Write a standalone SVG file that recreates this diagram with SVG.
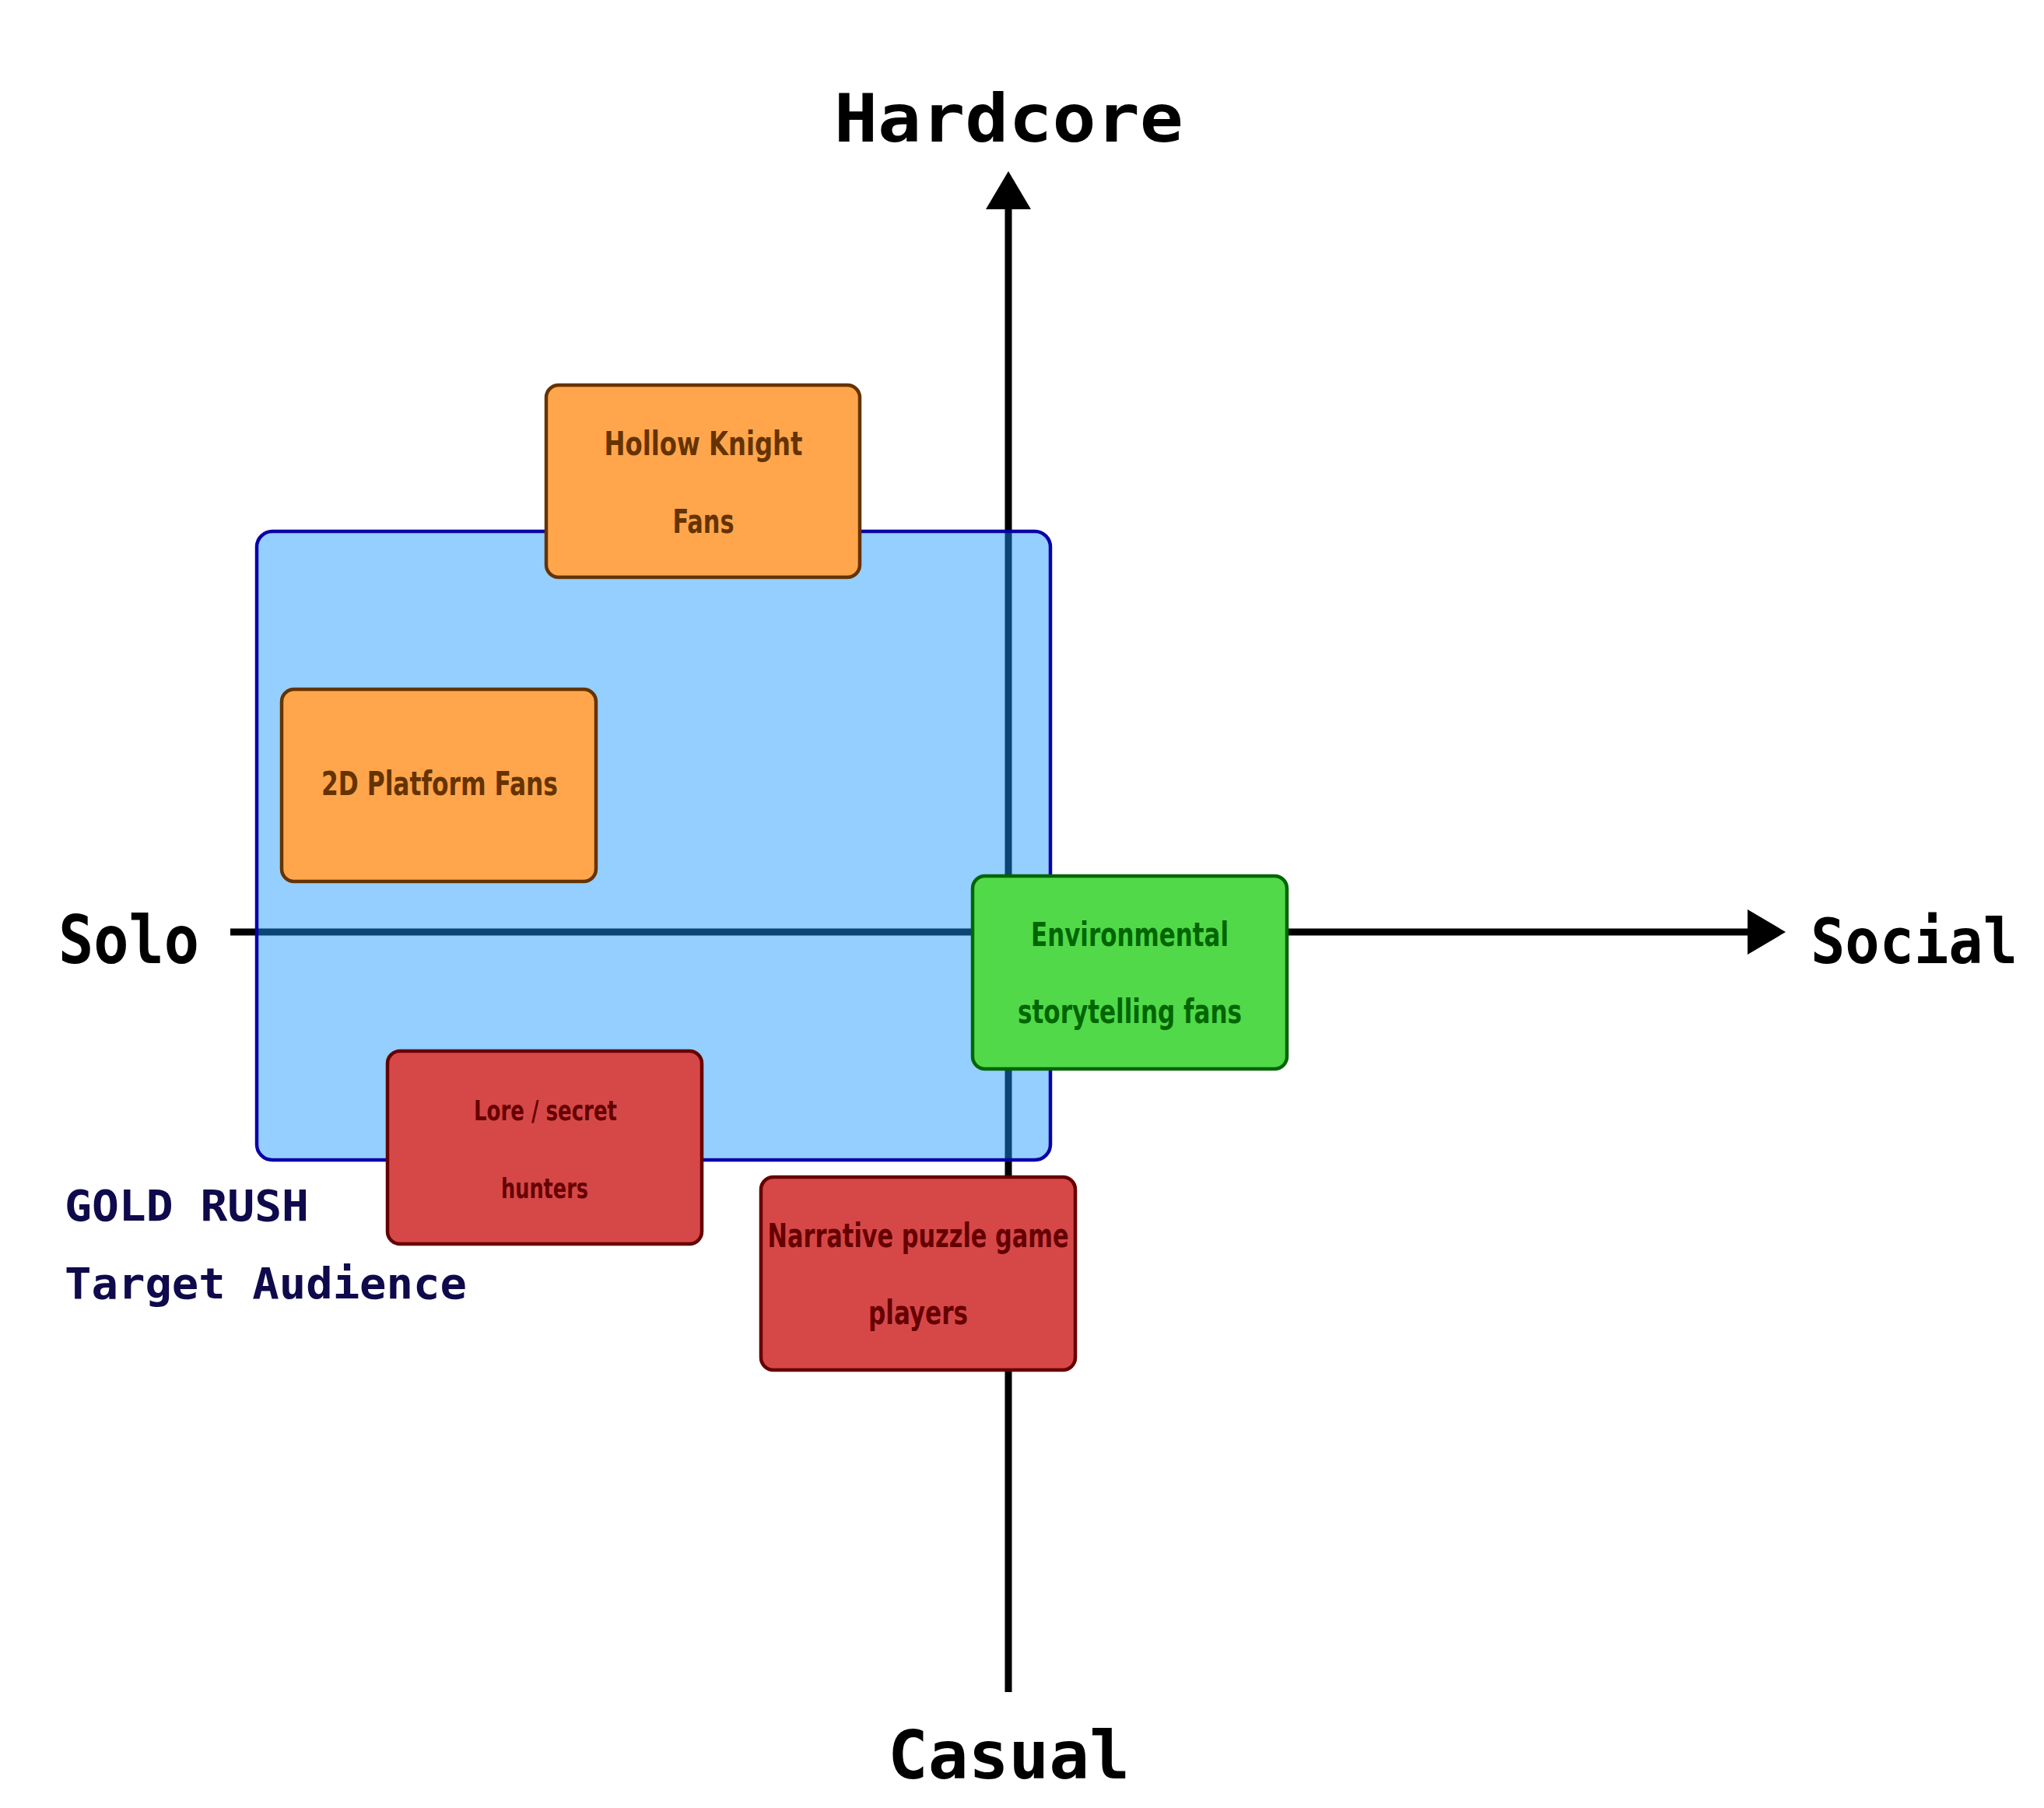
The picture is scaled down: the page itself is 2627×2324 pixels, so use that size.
<svg xmlns="http://www.w3.org/2000/svg" width="2627" height="2324" viewBox="0 0 2627 2324">
<style>
.axis{stroke:#000;stroke-width:9;fill:none}
.head{fill:#000}
.lbl{font-family:"DejaVu Sans Mono","Liberation Mono",monospace;font-weight:bold;font-size:86px;fill:#000}
.title{font-family:"DejaVu Sans Mono","Liberation Mono",monospace;font-weight:bold;font-size:56px;fill:#0f0a4b}
.box{stroke-width:4.5}
.orange{fill:#ffa64d;stroke:#663300}
.green{fill:#52d94a;stroke:#006600}
.red{fill:#d64848;stroke:#660000}
.t{font-family:"DejaVu Sans Condensed","Liberation Sans Narrow","Liberation Sans",sans-serif;font-weight:bold;font-size:42px;text-anchor:middle}
.to{fill:#663300}
.tg{fill:#006600}
.tr{fill:#660000}
</style>
<rect width="2627" height="2324" fill="#fff"/>
<g id="connectors">
<line class="axis" x1="296" y1="1198" x2="2250" y2="1198"/>
<polygon class="head" points="2246,1169 2295,1198 2246,1227"/>
<line class="axis" x1="1296" y1="2175" x2="1296" y2="265"/>
<polygon class="head" points="1267,269 1296,220 1325,269"/>
</g>
<g id="axis-labels">
<text class="lbl" x="1072" y="182" textLength="449" lengthAdjust="spacingAndGlyphs">Hardcore</text>
<text class="lbl" x="75" y="1238" textLength="181" lengthAdjust="spacingAndGlyphs">Solo</text>
<text class="lbl" x="2327" y="1238" style="font-size:80px" textLength="266" lengthAdjust="spacingAndGlyphs">Social</text>
<text class="lbl" x="1141" y="2286" textLength="311" lengthAdjust="spacingAndGlyphs">Casual</text>
</g>
<g id="target-zone">
<rect x="330" y="683" width="1020" height="808" rx="20" fill="#1696ff" fill-opacity="0.46" stroke="#0a00a8" stroke-width="4.5"/>
</g>
<g id="title">
<text class="title" x="83" y="1569" textLength="314" lengthAdjust="spacingAndGlyphs">GOLD RUSH</text>
<text class="title" x="83" y="1669" textLength="517" lengthAdjust="spacingAndGlyphs">Target Audience</text>
</g>
<g id="hollow-knight">
<rect class="box orange" x="702" y="495" width="403" height="247" rx="16"/>
<text class="t to" x="904" y="585" textLength="255" lengthAdjust="spacingAndGlyphs">Hollow Knight</text>
<text class="t to" x="904" y="685" textLength="79" lengthAdjust="spacingAndGlyphs">Fans</text>
</g>
<g id="platform-fans">
<rect class="box orange" x="362" y="886" width="404" height="247" rx="16"/>
<text class="t to" x="565" y="1022" textLength="304" lengthAdjust="spacingAndGlyphs">2D Platform Fans</text>
</g>
<g id="environmental">
<rect class="box green" x="1250" y="1126" width="404" height="248" rx="16"/>
<text class="t tg" x="1452" y="1216" textLength="254" lengthAdjust="spacingAndGlyphs">Environmental</text>
<text class="t tg" x="1452" y="1315" textLength="288" lengthAdjust="spacingAndGlyphs">storytelling fans</text>
</g>
<g id="lore-hunters">
<rect class="box red" x="498" y="1351" width="404" height="248" rx="16"/>
<text class="t tr" x="701" y="1440" style="font-size:35px" textLength="184" lengthAdjust="spacingAndGlyphs">Lore / secret</text>
<text class="t tr" x="700" y="1540" style="font-size:35px" textLength="112" lengthAdjust="spacingAndGlyphs">hunters</text>
</g>
<g id="narrative-puzzle">
<rect class="box red" x="978" y="1513" width="404" height="248" rx="16"/>
<text class="t tr" x="1180" y="1603" textLength="387" lengthAdjust="spacingAndGlyphs">Narrative puzzle game</text>
<text class="t tr" x="1180" y="1702" textLength="128" lengthAdjust="spacingAndGlyphs">players</text>
</g>
</svg>
